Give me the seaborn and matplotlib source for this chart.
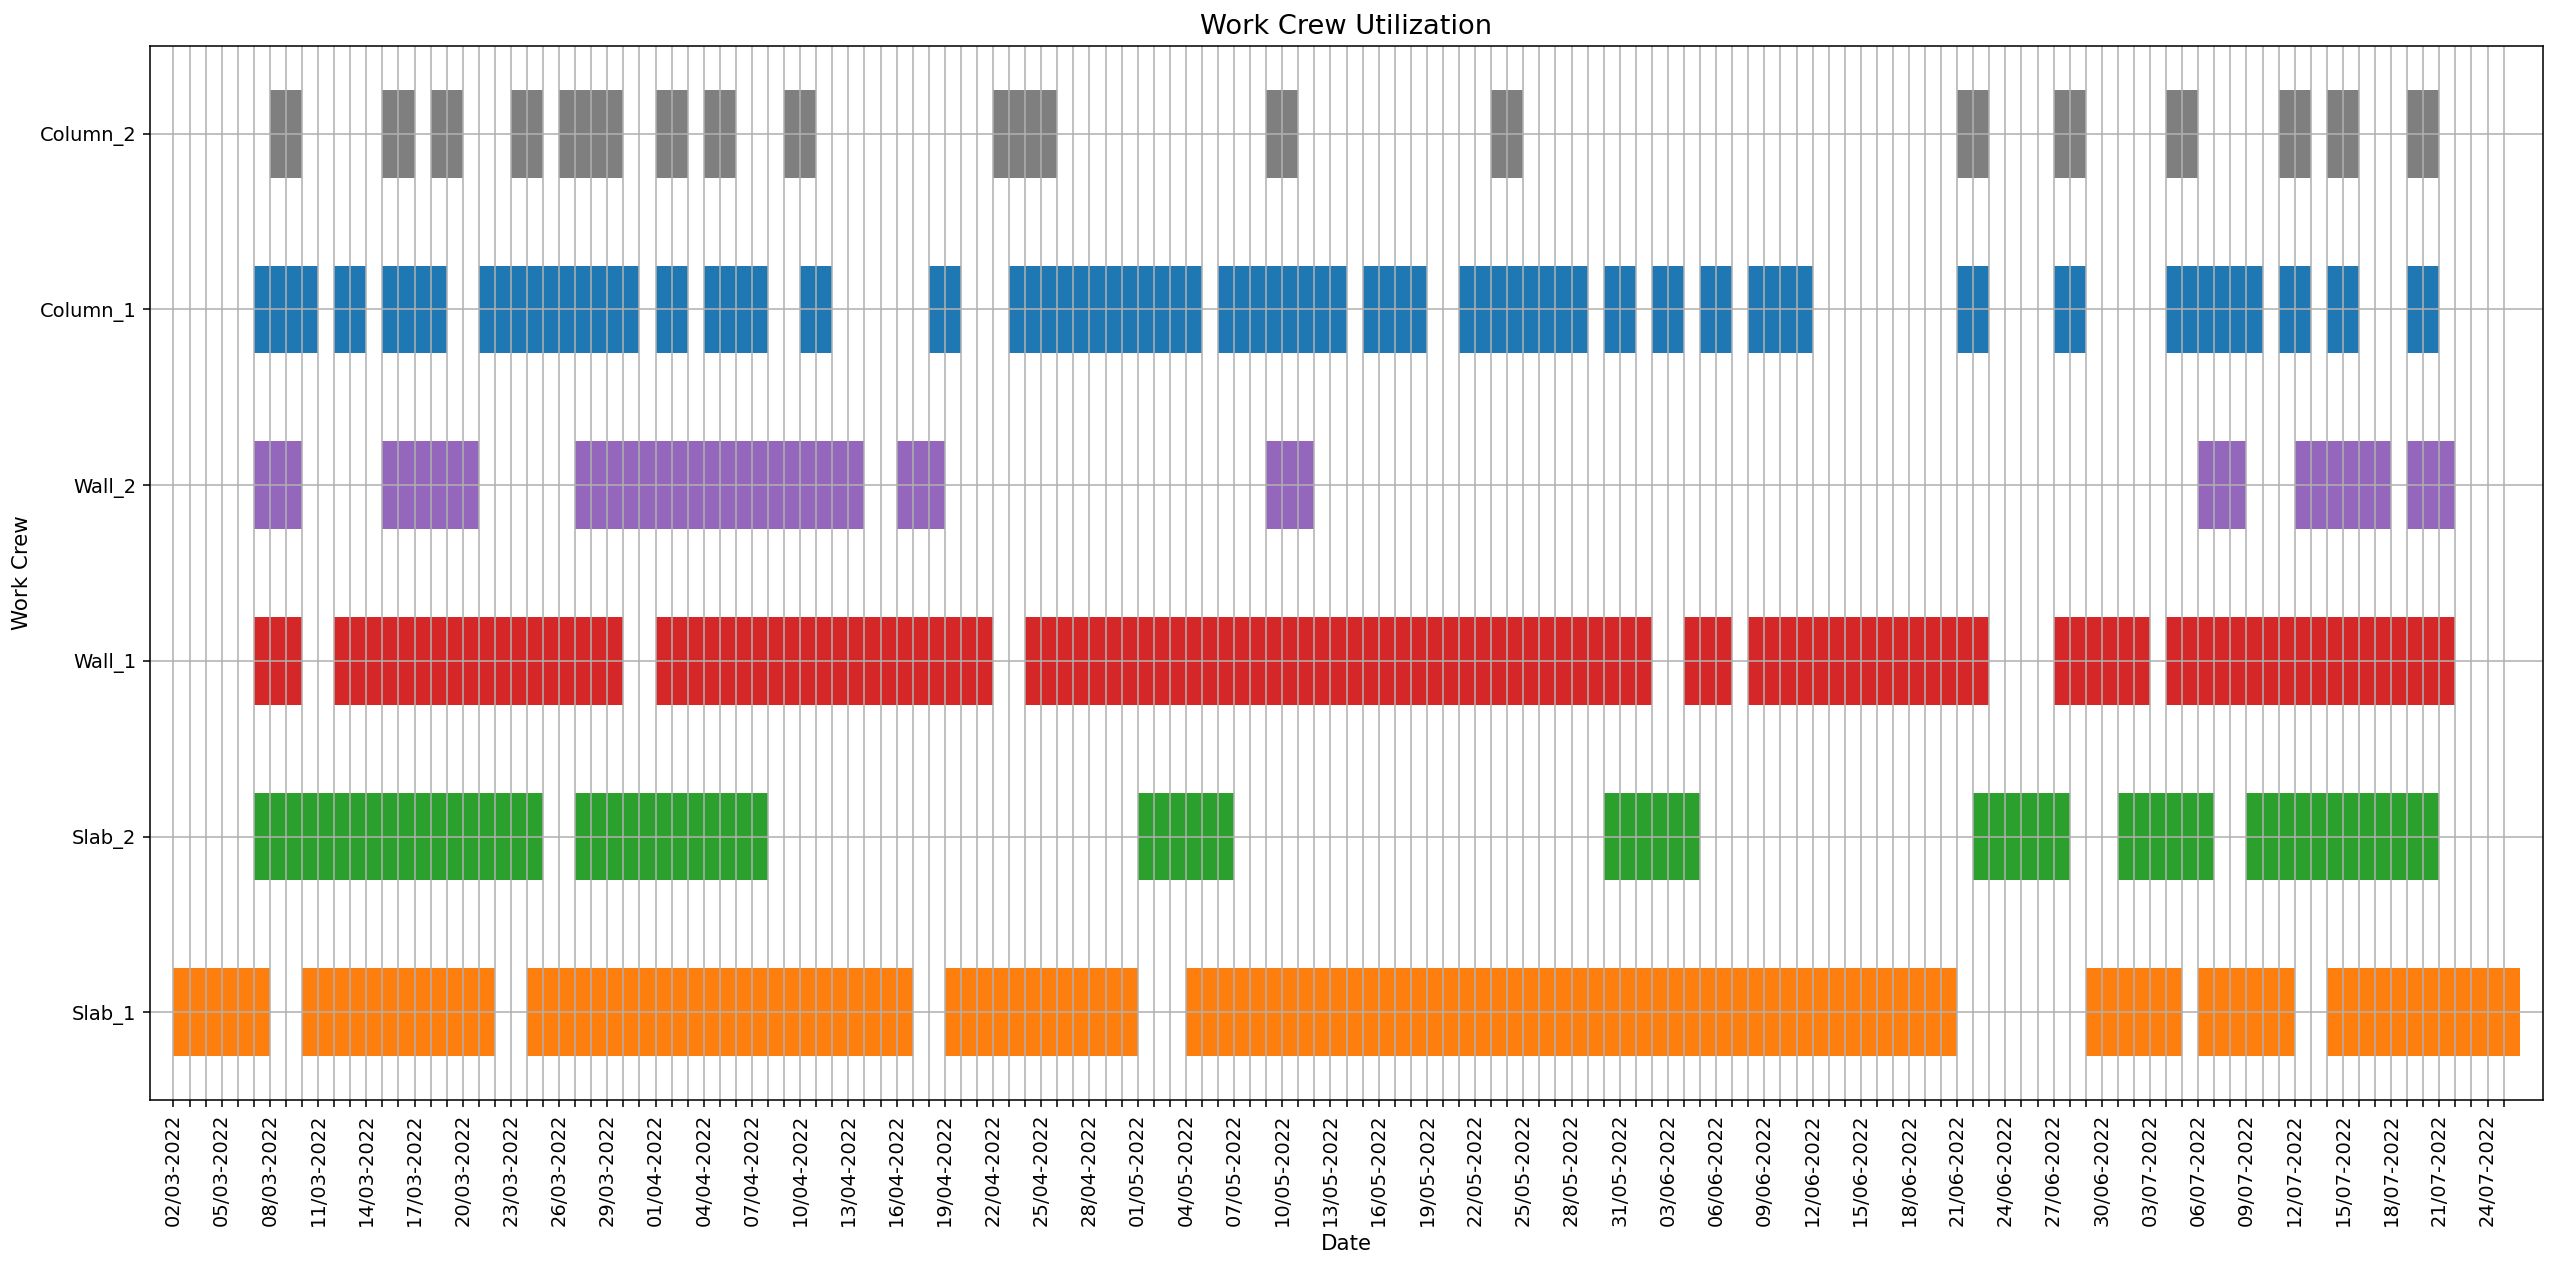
import pandas as pd
import matplotlib
matplotlib.use("Agg")
import matplotlib.pyplot as plt
import seaborn as sns

# Work crews, bottom to top
crews = ['Slab_1', 'Slab_2', 'Wall_1', 'Wall_2', 'Column_1', 'Column_2']

# Working periods per crew: start date and number of days
slab_1_start = ['02/03/2022', '10/03/2022', '24/03/2022', '19/04/2022', '04/05/2022',
                '29/06/2022', '06/07/2022', '14/07/2022']
slab_1_days = [6, 12, 24, 12, 48, 6, 6, 12]

slab_2_start = ['07/03/2022', '27/03/2022', '01/05/2022', '30/05/2022', '22/06/2022',
                '01/07/2022', '09/07/2022']
slab_2_days = [18, 12, 6, 6, 6, 6, 12]

wall_1_start = ['07/03/2022', '12/03/2022', '01/04/2022', '24/04/2022', '04/06/2022',
                '08/06/2022', '27/06/2022', '04/07/2022']
wall_1_days = [3, 18, 21, 39, 3, 15, 6, 18]

wall_2_start = ['07/03/2022', '15/03/2022', '27/03/2022', '16/04/2022', '09/05/2022',
                '06/07/2022', '12/07/2022', '19/07/2022']
wall_2_days = [3, 6, 18, 3, 3, 3, 6, 3]

column_1_start = ['07/03/2022', '12/03/2022', '15/03/2022', '21/03/2022', '01/04/2022',
                  '04/04/2022', '10/04/2022', '18/04/2022', '23/04/2022', '06/05/2022',
                  '15/05/2022', '21/05/2022', '30/05/2022', '02/06/2022', '05/06/2022',
                  '08/06/2022', '21/06/2022', '27/06/2022', '04/07/2022', '11/07/2022',
                  '14/07/2022', '19/07/2022']
column_1_days = [4, 2, 4, 10, 2, 4, 2, 2, 12, 8, 4, 8, 2, 2, 2, 4, 2, 2, 6, 2, 2, 2]

column_2_start = ['08/03/2022', '15/03/2022', '18/03/2022', '23/03/2022', '26/03/2022',
                  '01/04/2022', '04/04/2022', '09/04/2022', '22/04/2022', '09/05/2022',
                  '23/05/2022', '21/06/2022', '27/06/2022', '04/07/2022', '11/07/2022',
                  '14/07/2022', '19/07/2022']
column_2_days = [2, 2, 2, 2, 4, 2, 2, 2, 4, 2, 2, 2, 2, 2, 2, 2, 2]

first_day = '02/03/2022'
last_day = '25/07/2022'

pal = sns.color_palette('tab10')
crew_colors = {'Slab_1': pal[1], 'Slab_2': pal[2], 'Wall_1': pal[3],
               'Wall_2': pal[4], 'Column_1': pal[0], 'Column_2': pal[7]}

# one row per period
frames = []
for crew, starts, days in [('Slab_1', slab_1_start, slab_1_days),
                           ('Slab_2', slab_2_start, slab_2_days),
                           ('Wall_1', wall_1_start, wall_1_days),
                           ('Wall_2', wall_2_start, wall_2_days),
                           ('Column_1', column_1_start, column_1_days),
                           ('Column_2', column_2_start, column_2_days)]:
    frames.append(pd.DataFrame({'Crew': crew,
                                'Start': pd.to_datetime(starts, format='%d/%m/%Y'),
                                'Days': days}))
df = pd.concat(frames, ignore_index=True)

t0 = pd.to_datetime(first_day, format='%d/%m/%Y')
df['Offset'] = (df['Start'] - t0).dt.days
df['Row'] = df['Crew'].map({c: i for i, c in enumerate(crews)})

all_days = pd.date_range(t0, pd.to_datetime(last_day, format='%d/%m/%Y'), freq='D')

fig, ax = plt.subplots(figsize=(2560 / 140, 1266 / 140), dpi=140)

for crew in crews:
    sub = df[df['Crew'] == crew]
    ax.barh(sub['Row'], sub['Days'], left=sub['Offset'], height=0.5,
            color=crew_colors[crew])

ticks = list(range(len(all_days)))
labels = [d.strftime('%d/%m-%Y') if i % 3 == 0 else '' for i, d in enumerate(all_days)]
ax.set_xticks(ticks)
ax.set_xticklabels(labels, rotation=90)
ax.set_yticks(range(len(crews)))
ax.set_yticklabels(crews)

# small margin around the whole period (last bar ends one day after last_day)
span = len(all_days)
ax.set_xlim(-0.01 * span, span + 0.01 * span)
ax.set_ylim(-0.5, len(crews) - 0.5)

ax.set_xlabel('Date', fontsize=11)
ax.set_ylabel('Work Crew', fontsize=11)
ax.set_title('Work Crew Utilization', fontsize=14)
ax.grid(True)

plt.subplots_adjust(left=0.0586, right=0.9934, top=0.9637, bottom=0.1311)
plt.savefig('out.png', dpi=140)
